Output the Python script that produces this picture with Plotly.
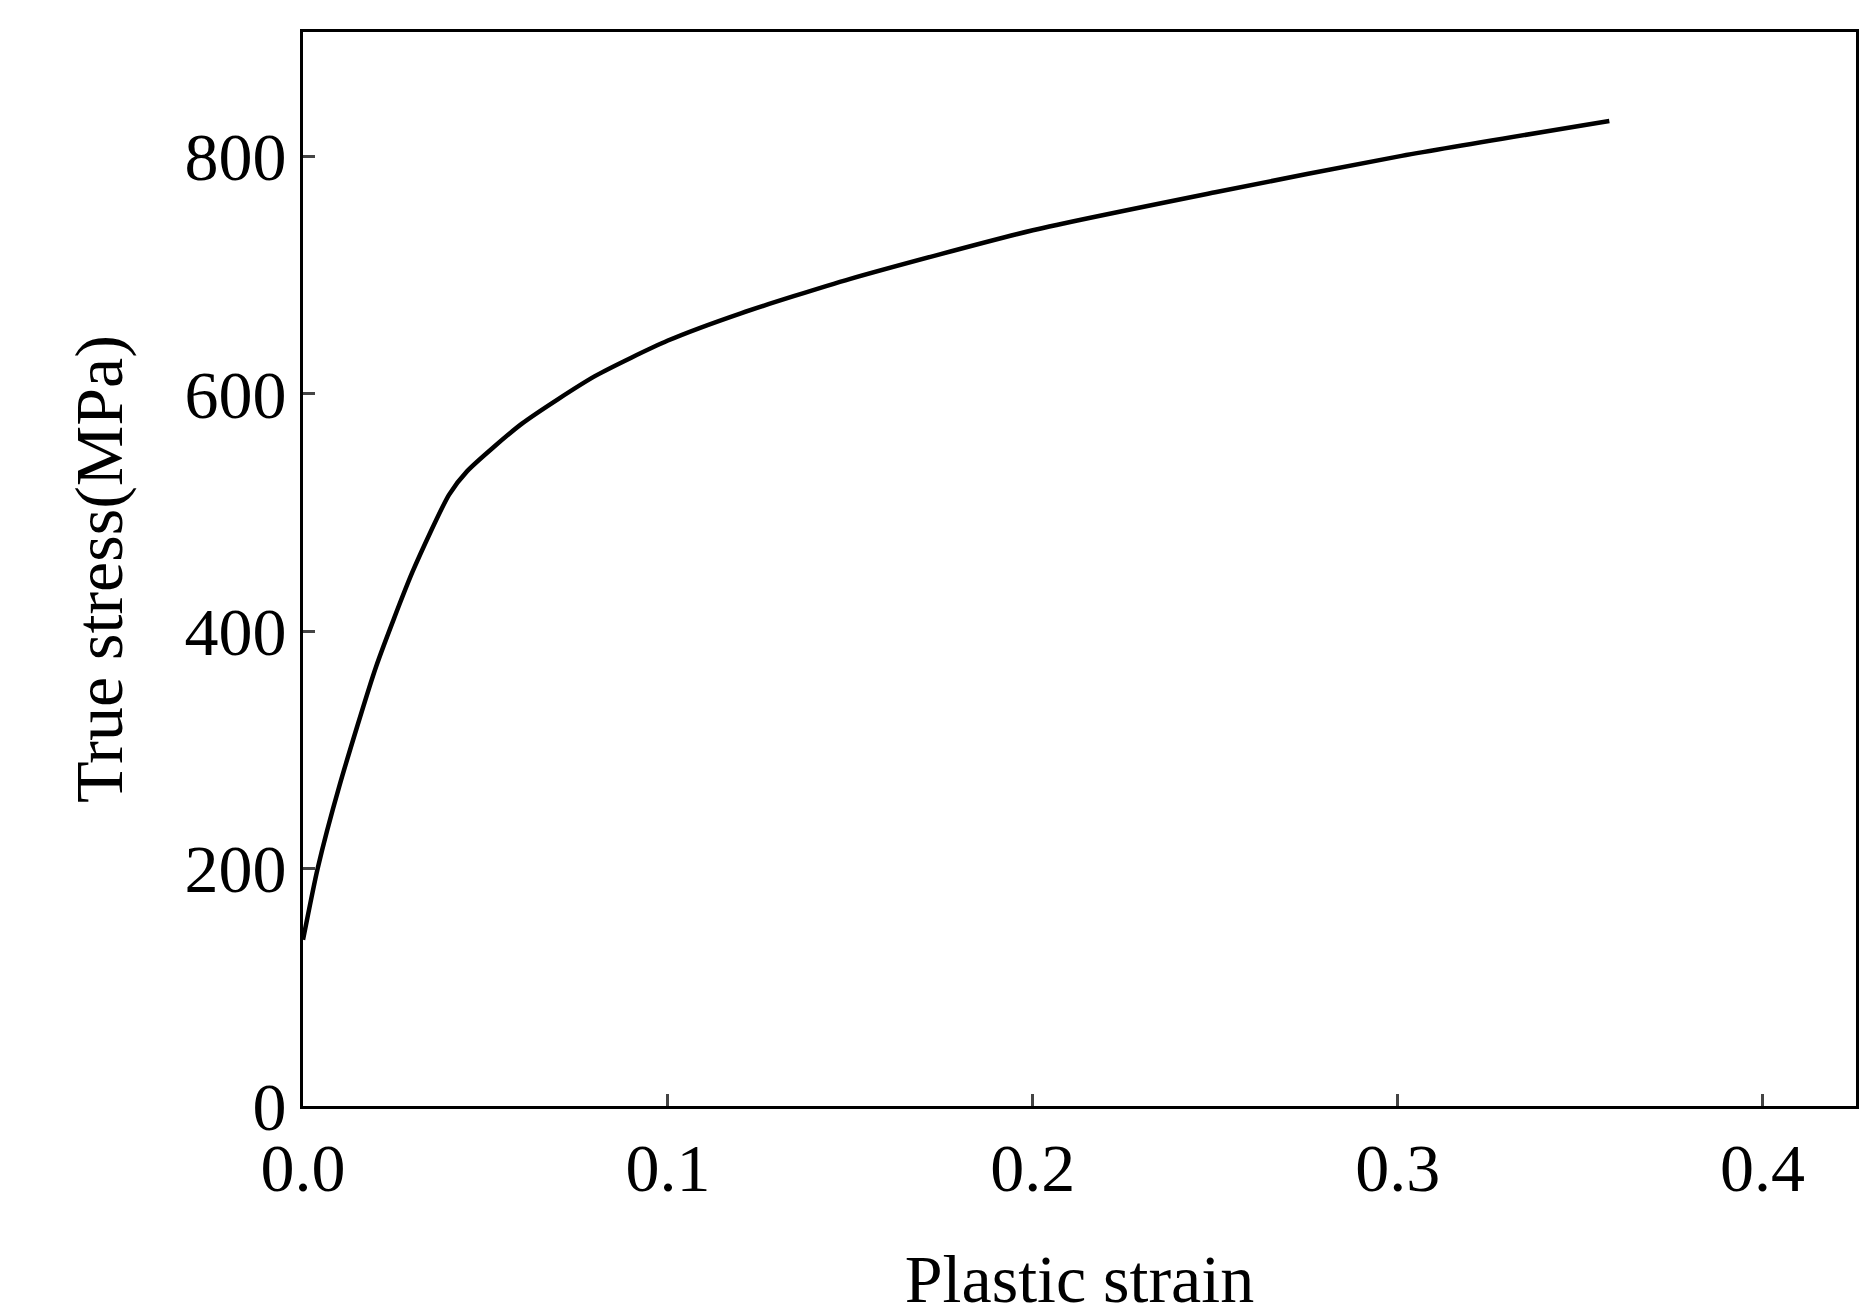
import plotly.graph_objects as go

# plastic strain vs true stress
strain = [0.0, 0.004, 0.01, 0.02, 0.03, 0.04, 0.045, 0.06, 0.08, 0.1, 0.12, 0.15, 0.2, 0.25, 0.3, 0.358]
stress = [140, 200, 270, 370, 450, 515, 535, 575, 615, 645, 668, 697, 738, 770, 800, 830]

fig = go.Figure()
fig.add_trace(go.Scatter(x=strain, y=stress, mode="lines",
                         line=dict(color="black", width=4.5, shape="spline", smoothing=0.6),
                         showlegend=False))

font = dict(family="Liberation Serif", size=68, color="black")
axis = dict(showline=True, linecolor="black", linewidth=3, mirror=True, ticks="inside",
            ticklen=12, tickwidth=3, showgrid=False, zeroline=False, tickfont=font)

fig.update_layout(
    width=1875, height=1314, paper_bgcolor="white", plot_bgcolor="white",
    margin=dict(l=295, r=27, t=24, b=216),
    xaxis=dict(axis, range=[0, 0.4256], tickvals=[0, 0.1, 0.2, 0.3, 0.4], tickformat=".1f",
               title=dict(text="Plastic strain", font=font, standoff=50)),
    yaxis=dict(axis, range=[0, 905], tickvals=[0, 200, 400, 600, 800],
               title=dict(text="True stress(MPa)", font=font, standoff=40)),
)
fig.write_html("out.html")
